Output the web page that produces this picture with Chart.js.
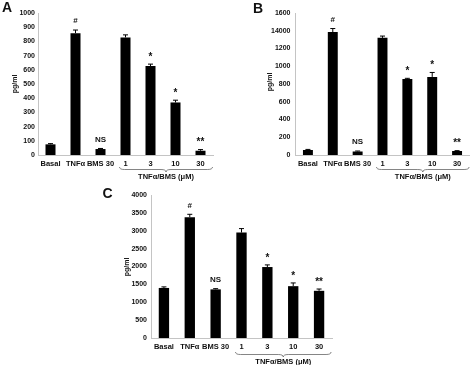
<!DOCTYPE html>
<html>
<head>
<meta charset="utf-8">
<script src="https://cdn.jsdelivr.net/npm/chart.js@4"></script>
<style>
  body { margin: 0; background: #fff; }
  #wrap { position: relative; width: 474px; height: 365px; overflow: hidden; }
  canvas { position: absolute; }
</style>
</head>
<body>
<div id="wrap">
  <canvas id="chartA" width="237" height="182" style="left:0;top:0"></canvas>
  <canvas id="chartB" width="237" height="182" style="left:237px;top:0"></canvas>
  <canvas id="chartC" width="250" height="183" style="left:100px;top:182px"></canvas>
</div>
<script>
// Groups and significance marks (same for all three panels)
const categories = ['Basal', 'TNFα', 'BMS 30', '1', '3', '10', '30'];
const marks = ['', '#', 'NS', '', '*', '*', '**'];
const groupLabel = 'TNFα/BMS (μM)';
const yTitle = 'pg/ml';

// Panel A
const valuesA = [75, 858, 42, 828, 626, 370, 30];
const errorsA = [5, 22, 4, 18, 14, 16, 8];
const ticksA = ['0', '100', '200', '300', '400', '500', '600', '700', '800', '900', '1000'];

// Panel B (tick label "14000" is printed that way in the original)
const valuesB = [55, 1385, 40, 1320, 856, 880, 45];
const errorsB = [8, 40, 5, 20, 8, 50, 4];
const ticksB = ['0', '200', '400', '600', '800', '1000', '1200', '14000', '1600'];

// Panel C
const valuesC = [1400, 3380, 1360, 2950, 1985, 1450, 1320];
const errorsC = [30, 80, 20, 110, 60, 90, 50];
const ticksC = ['0', '500', '1000', '1500', '2000', '2500', '3000', '3500', '4000'];

const FONT = '"Liberation Sans", Arial, sans-serif';

// error bars, marks, brace, axis title and panel letter
const extras = {
    id: 'extras',
    afterDatasetsDraw(chart, args, opts) {
        const ctx = chart.ctx;
        const y = chart.scales.y;
        const meta = chart.getDatasetMeta(0);
        const vals = chart.data.datasets[0].data;
        ctx.save();
        meta.data.forEach(function(bar, i) {
            const top = y.getPixelForValue(vals[i] + opts.errors[i]);
            ctx.strokeStyle = '#000';
            ctx.lineWidth = 1;
            ctx.beginPath();
            ctx.moveTo(bar.x, bar.y);
            ctx.lineTo(bar.x, top);
            ctx.moveTo(bar.x - 2.5, top);
            ctx.lineTo(bar.x + 2.5, top);
            ctx.stroke();
            if (marks[i]) {
                const star = marks[i].indexOf('*') === 0;
                ctx.fillStyle = '#111';
                ctx.font = 'bold ' + (star ? 10 : 8) + 'px ' + FONT;
                ctx.textAlign = 'center';
                ctx.textBaseline = 'middle';
                ctx.fillText(marks[i], bar.x, top - (star ? 7 : 9));
            }
        });
        ctx.restore();
    },
    afterDraw(chart, args, opts) {
        const ctx = chart.ctx;
        const area = chart.chartArea;
        const x = chart.scales.x;
        const x1 = x.getPixelForValue(3) - 6;
        const x2 = x.getPixelForValue(6) + 12;
        const xm = (x1 + x2) / 2;
        const by = area.bottom + opts.braceOffset;
        const h = 5, q = h / 2;
        ctx.save();
        ctx.strokeStyle = '#666';
        ctx.lineWidth = 0.8;
        ctx.beginPath();
        ctx.moveTo(x1, by);
        ctx.quadraticCurveTo(x1, by + q, x1 + 5, by + q);
        ctx.lineTo(xm - 5, by + q);
        ctx.quadraticCurveTo(xm, by + q, xm, by + h);
        ctx.quadraticCurveTo(xm, by + q, xm + 5, by + q);
        ctx.lineTo(x2 - 5, by + q);
        ctx.quadraticCurveTo(x2, by + q, x2, by);
        ctx.stroke();

        ctx.fillStyle = '#111';
        ctx.textAlign = 'center';
        ctx.textBaseline = 'middle';
        ctx.font = 'bold 7.5px ' + FONT;
        ctx.fillText(groupLabel, xm, by + 10);

        ctx.save();
        ctx.translate(opts.titleX, opts.titleY);
        ctx.rotate(-Math.PI / 2);
        ctx.font = 'bold 7px ' + FONT;
        ctx.fillText(yTitle, 0, 0);
        ctx.restore();

        ctx.font = 'bold 14px ' + FONT;
        ctx.fillText(opts.letter, opts.letterX, opts.letterY);
        ctx.restore();
    }
};

function makePanel(id, values, errors, tickLabels, max, step, p) {
    const ctx = document.getElementById(id).getContext('2d');
    return new Chart(ctx, {
        type: 'bar',
        data: {
            labels: categories,
            datasets: [{
                data: values,
                backgroundColor: '#000',
                barPercentage: 0.4,
                categoryPercentage: 1
            }]
        },
        options: {
            responsive: false,
            animation: false,
            layout: { padding: { left: 0, top: 13, right: p.right, bottom: 0 } },
            plugins: {
                legend: { display: false },
                tooltip: { enabled: false },
                extras: {
                    errors: errors,
                    letter: p.letter, letterX: p.letterX, letterY: p.letterY,
                    titleX: p.titleX, titleY: p.titleY,
                    braceOffset: p.braceOffset
                }
            },
            scales: {
                x: {
                    grid: { display: false, drawTicks: false },
                    border: { color: '#c4c4c4' },
                    ticks: {
                        color: '#111', padding: 4, maxRotation: 0, autoSkip: false,
                        font: { family: FONT, size: 7.5, weight: 'bold' }
                    },
                    afterFit: function(scale) { scale.height = p.xHeight; }
                },
                y: {
                    min: 0, max: max,
                    grid: { display: false, drawTicks: false },
                    border: { color: '#c4c4c4' },
                    ticks: {
                        stepSize: step, color: '#111', padding: p.tickPad,
                        font: { family: FONT, size: 7, weight: 'bold' },
                        callback: function(v, i) { return tickLabels[i]; }
                    },
                    afterFit: function(scale) { scale.width = p.yWidth; }
                }
            }
        },
        plugins: [extras]
    });
}

makePanel('chartA', valuesA, errorsA, ticksA, 1000, 100, {
    right: 24, yWidth: 38, xHeight: 27, tickPad: 3, braceOffset: 12,
    letter: 'A', letterX: 7, letterY: 8, titleX: 15, titleY: 84
});
makePanel('chartB', valuesB, errorsB, ticksB, 1600, 200, {
    right: 4.5, yWidth: 58.5, xHeight: 27, tickPad: 5, braceOffset: 12,
    letter: 'B', letterX: 21, letterY: 9, titleX: 33, titleY: 82
});
makePanel('chartC', valuesC, errorsC, ticksC, 4000, 500, {
    right: 18, yWidth: 51, xHeight: 27, tickPad: 4, braceOffset: 14,
    letter: 'C', letterX: 7.5, letterY: 12, titleX: 27, titleY: 85
});
</script>
</body>
</html>
